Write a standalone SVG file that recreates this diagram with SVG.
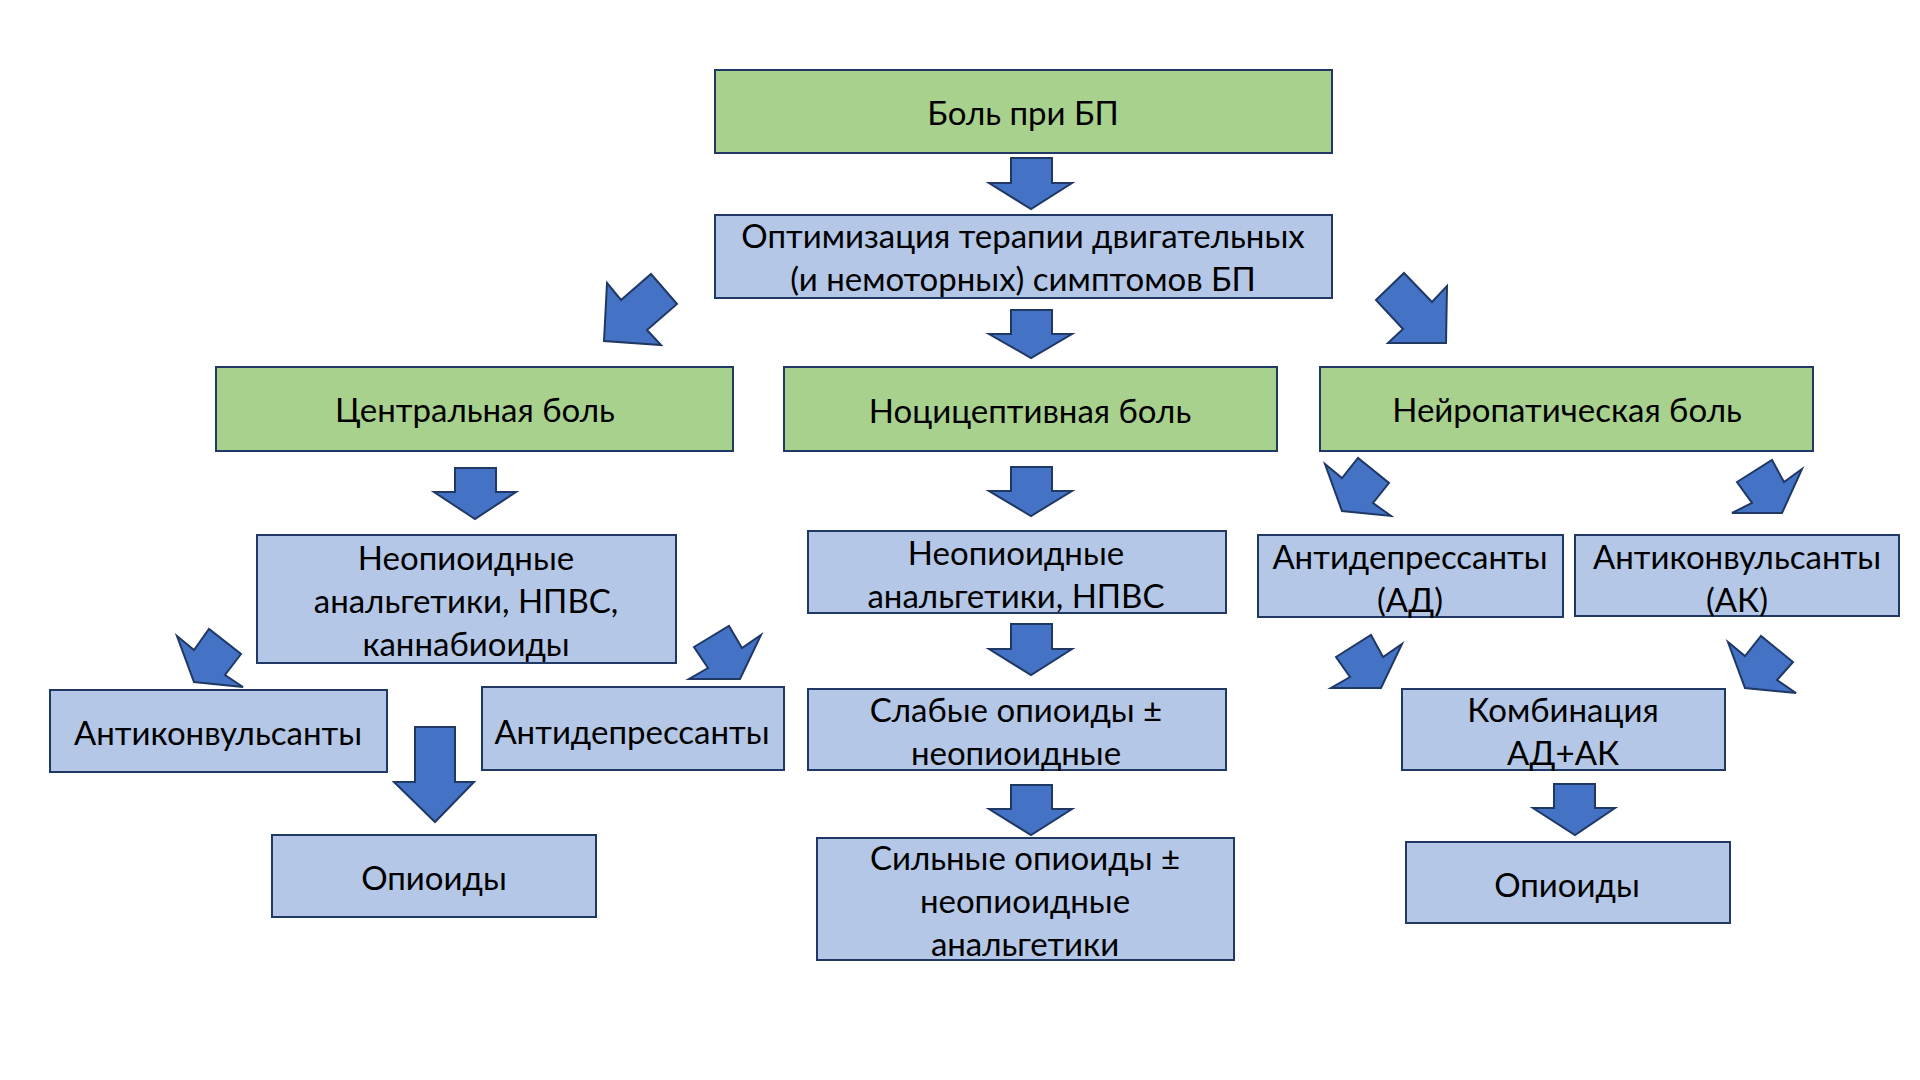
<svg xmlns="http://www.w3.org/2000/svg" width="1920" height="1080" viewBox="0 0 1920 1080">
<style>
.g{fill:#A9D18E;stroke:#1F3864;stroke-width:2}
.b{fill:#B4C7E7;stroke:#1F3864;stroke-width:2}
.t{font-family:Lato,"Open Sans","DejaVu Sans",sans-serif;font-size:33px;fill:#000;text-anchor:middle}
.a{fill:#4472C4;stroke:#1F3864;stroke-width:2;stroke-linejoin:miter}
</style>
<rect width="1920" height="1080" fill="#fff"/>
<g id="connectors">
<polygon class="a" points="1011,158 1052,158 1052,183 1072,183 1031,209 989,183 1011,183"/>
<polygon class="a" points="1011,310 1052,310 1052,334 1072,334 1031,358 989,334 1011,334"/>
<polygon class="a" points="455,468 496,468 496,492 516,492 475,519 434,492 455,492"/>
<polygon class="a" points="1011,467 1052,467 1052,491 1072,491 1031,516 989,491 1011,491"/>
<polygon class="a" points="1011,624 1052,624 1052,649 1072,649 1031,675 989,649 1011,649"/>
<polygon class="a" points="1011,785 1052,785 1052,809 1072,809 1031,835 989,809 1011,809"/>
<polygon class="a" points="1554,784 1595,784 1595,808 1615,808 1575,835 1533,808 1554,808"/>
<polygon class="a" points="415,727 455,727 455,782 474,782 435,822 394,782 415,782"/>
<polygon class="a" points="607,283 621,300 651,274 677,304 647,330 661,345 604,341"/>
<polygon class="a" points="1376,300 1404,273 1432,302 1447,286 1446,343 1388,343 1403,329"/>
<polygon class="a" points="1325,464 1342,478 1358,458 1389,483 1373,503 1391,516 1342,511"/>
<polygon class="a" points="1737,482 1772,460 1784,482 1802,469 1782,513 1732,513 1752,503"/>
<polygon class="a" points="177,636 194,650 209,629 241,654 225,675 243,687 194,682"/>
<polygon class="a" points="694,647 729,626 742,648 761,635 740,679 689,679 708,668"/>
<polygon class="a" points="1336,657 1371,635 1383,657 1402,644 1381,688 1331,688 1350,677"/>
<polygon class="a" points="1728,642 1745,656 1761,636 1793,662 1777,680 1796,693 1745,688"/>
</g>
<g id="n1"><rect class="g" x="715" y="70" width="617" height="83"/><text class="t" x="1023" y="125">Боль при БП</text></g>
<g id="n2"><rect class="b" x="715" y="215" width="617" height="83"/><text class="t" x="1023" y="248">Оптимизация терапии двигательных</text><text class="t" x="1023" y="291">(и немоторных) симптомов БП</text></g>
<g id="n3"><rect class="g" x="216" y="367" width="517" height="84"/><text class="t" x="475" y="422">Центральная боль</text></g>
<g id="n4"><rect class="g" x="784" y="367" width="493" height="84"/><text class="t" x="1030" y="423">Ноцицептивная боль</text></g>
<g id="n5"><rect class="g" x="1320" y="367" width="493" height="84"/><text class="t" x="1567" y="422">Нейропатическая боль</text></g>
<g id="n6"><rect class="b" x="257" y="535" width="419" height="128"/><text class="t" x="466" y="570">Неопиоидные</text><text class="t" x="466" y="613">анальгетики, НПВС,</text><text class="t" x="466" y="656">каннабиоиды</text></g>
<g id="n7"><rect class="b" x="808" y="531" width="418" height="82"/><text class="t" x="1016" y="565">Неопиоидные</text><text class="t" x="1016" y="608">анальгетики, НПВС</text></g>
<g id="n8"><rect class="b" x="1258" y="535" width="305" height="82"/><text class="t" x="1410" y="569">Антидепрессанты</text><text class="t" x="1410" y="612">(АД)</text></g>
<g id="n9"><rect class="b" x="1575" y="535" width="324" height="81"/><text class="t" x="1737" y="569">Антиконвульсанты</text><text class="t" x="1737" y="612">(АК)</text></g>
<g id="n10"><rect class="b" x="50" y="690" width="337" height="82"/><text class="t" x="218" y="745">Антиконвульсанты</text></g>
<g id="n11"><rect class="b" x="482" y="687" width="302" height="83"/><text class="t" x="632" y="744">Антидепрессанты</text></g>
<g id="n12"><rect class="b" x="272" y="835" width="324" height="82"/><text class="t" x="434" y="890">Опиоиды</text></g>
<g id="n13"><rect class="b" x="808" y="689" width="418" height="81"/><text class="t" x="1016" y="722">Слабые опиоиды ±</text><text class="t" x="1016" y="765">неопиоидные</text></g>
<g id="n14"><rect class="b" x="817" y="838" width="417" height="122"/><text class="t" x="1025" y="870">Сильные опиоиды ±</text><text class="t" x="1025" y="913">неопиоидные</text><text class="t" x="1025" y="956">анальгетики</text></g>
<g id="n15"><rect class="b" x="1402" y="689" width="323" height="81"/><text class="t" x="1563" y="722">Комбинация</text><text class="t" x="1563" y="765">АД+АК</text></g>
<g id="n16"><rect class="b" x="1406" y="842" width="324" height="81"/><text class="t" x="1567" y="897">Опиоиды</text></g>
</svg>
